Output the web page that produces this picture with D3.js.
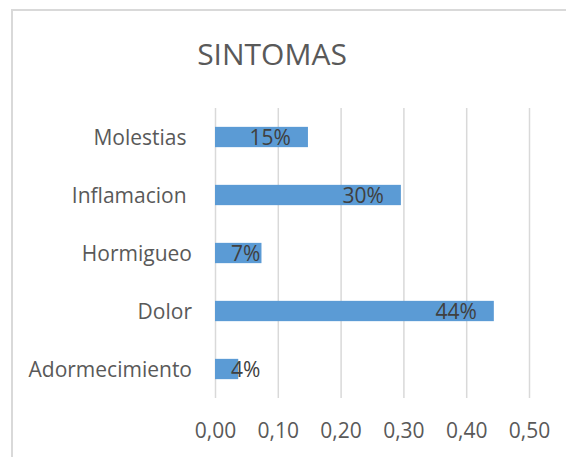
<!DOCTYPE html>
<html>
<head>
<meta charset="utf-8">
<script src="https://cdn.jsdelivr.net/npm/d3@7"></script>
<style>
  body { margin: 0; background: #fff; }
  svg text { font-family: "Open Sans", sans-serif; white-space: pre; }
</style>
</head>
<body>
<div id="chart"></div>
<script>
// Chart data, top to bottom as drawn.
const categories = ['Molestias ', 'Inflamacion ', 'Hormigueo', 'Dolor', 'Adormecimiento']
const values = [0.148, 0.296, 0.074, 0.444, 0.037]
const valueLabels = ['15%', '30%', '7%', '44%', '4%']
const ticks = [0, 0.1, 0.2, 0.3, 0.4, 0.5]
const title = 'SINTOMAS'

const width = 566,
    height = 457

const svg = d3.select('#chart')
  .append('svg')
    .attr('width', width)
    .attr('height', height)

// Chart border (right and bottom fall outside the picture).
svg.append('rect')
  .attr('x', 12)
  .attr('y', 10)
  .attr('width', 700)
  .attr('height', 600)
  .style('fill', 'none')
  .style('stroke', '#d9d9d9')
  .style('stroke-width', 2)

const plotTop = 108,
    plotBottom = 398

const x = d3.scaleLinear()
  .domain([0, 0.5])
  .range([215, 529])

const y = d3.scaleBand()
  .domain(categories)
  .range([plotTop, plotBottom])
  .paddingInner(0.65)
  .paddingOuter(0.325)

// Comma decimal, as in the original.
const locale = d3.formatLocale({ decimal: ',', thousands: '.', grouping: [3], currency: ['', ''] })

// Gridlines and tick labels.
const axis = svg.append('g')
  .attr('transform', 'translate(0,' + plotBottom + ')')
  .call(d3.axisBottom(x)
    .tickValues(ticks)
    .tickSize(-(plotBottom - plotTop))
    .tickFormat(locale.format('.2f')))

axis.select('.domain').remove()
axis.selectAll('line')
  .attr('stroke', '#d9d9d9')
  .attr('stroke-width', 1.5)
axis.selectAll('text')
  .attr('y', 40)
  .attr('dy', null)
  .attr('fill', '#595959')
  .style('font-size', '21px')

// Bars.
svg.append('g')
  .selectAll('rect')
  .data(values)
  .enter()
  .append('rect')
    .attr('x', x(0))
    .attr('y', function(d, i) { return y(categories[i]) })
    .attr('width', function(d) { return x(d) - x(0) })
    .attr('height', y.bandwidth())
    .style('fill', '#5b9bd5')

// Category labels.
svg.append('g')
  .selectAll('text')
  .data(categories)
  .enter()
  .append('text')
    .attr('x', 192)
    .attr('y', function(d) { return y(d) + y.bandwidth() / 2 + 7.5 })
    .attr('text-anchor', 'end')
    .attr('fill', '#595959')
    .style('font-size', '21px')
    .text(function(d) { return d })

// Value labels, inside the end of each bar.
svg.append('g')
  .selectAll('text')
  .data(values)
  .enter()
  .append('text')
    .attr('y', function(d, i) { return y(categories[i]) + y.bandwidth() / 2 + 8 })
    .attr('fill', '#404040')
    .style('font-size', '21px')
    .text(function(d, i) { return valueLabels[i] })
    .each(function(d) {
      const w = this.getComputedTextLength()
      const end = Math.max(x(d) - 17, x(0) + 16 + w)
      d3.select(this).attr('x', end).attr('text-anchor', 'end')
    })

// Title.
svg.append('text')
  .attr('x', 272)
  .attr('y', 65)
  .attr('text-anchor', 'middle')
  .attr('fill', '#595959')
  .style('font-size', '30px')
  .text(title)
</script>
</body>
</html>
